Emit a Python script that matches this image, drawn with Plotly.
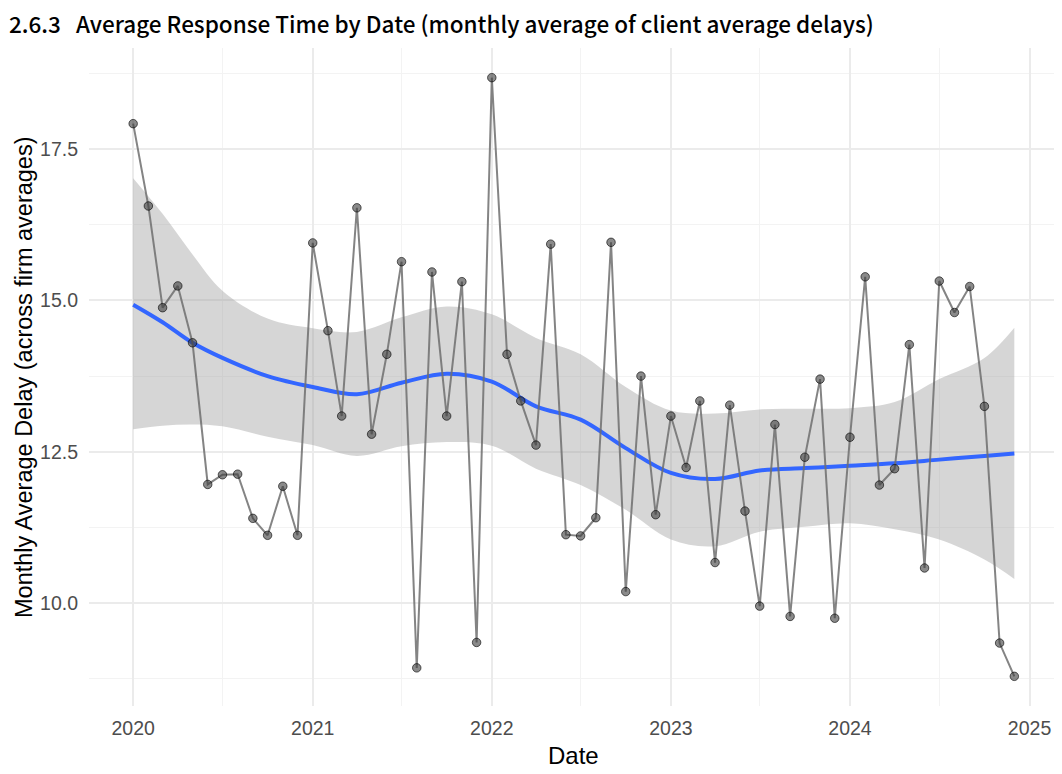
import plotly.graph_objects as go

months = [f"{y}-{m:02d}-01" for y in range(2020, 2025) for m in range(1, 13)]
delay = [17.92, 16.56, 14.88, 15.24, 14.30, 11.96, 12.12, 12.13, 11.40, 11.12, 11.93, 11.12,
         15.95, 14.50, 13.09, 16.53, 12.79, 14.11, 15.64, 8.93, 15.47, 13.09, 15.31, 9.35,
         18.68, 14.11, 13.34, 12.61, 15.93, 11.13, 11.11, 11.41, 15.96, 10.19, 13.75, 11.46,
         13.09, 12.24, 13.34, 10.67, 13.27, 11.52, 9.95, 12.95, 9.78, 12.41, 13.70, 9.75,
         12.74, 15.39, 11.95, 12.22, 14.27, 10.58, 15.32, 14.80, 15.23, 13.25, 9.34, 8.79]

smooth_dates = ["2020-01-01", "2020-03-01", "2020-05-01", "2020-07-01", "2020-10-01",
                "2021-01-01", "2021-04-01", "2021-07-01", "2021-10-01", "2022-01-01",
                "2022-04-01", "2022-07-01", "2022-10-01", "2023-01-01", "2023-04-01",
                "2023-07-01", "2023-10-01", "2024-01-01", "2024-04-01", "2024-07-01",
                "2024-10-01", "2024-12-01"]
smooth_fit = [14.93, 14.64, 14.30, 14.05, 13.75, 13.57, 13.45, 13.64, 13.79, 13.66,
              13.25, 13.03, 12.56, 12.15, 12.05, 12.19, 12.23, 12.27, 12.31, 12.37, 12.43, 12.47]
smooth_lo = [12.87, 12.93, 12.95, 12.92, 12.75, 12.61, 12.43, 12.59, 12.66, 12.60,
             12.22, 11.95, 11.54, 11.05, 10.94, 11.18, 11.26, 11.32, 11.22, 11.05, 10.72, 10.40]
smooth_hi = [17.02, 16.43, 15.76, 15.16, 14.70, 14.54, 14.48, 14.72, 14.90, 14.77,
             14.38, 14.11, 13.57, 13.18, 13.13, 13.20, 13.21, 13.22, 13.32, 13.70, 14.05, 14.55]

title_text = "2.6.3   Average Response Time by Date (monthly average of client average delays)"
x_title = "Date"
y_title = "Monthly Average Delay (across firm averages)"

fig = go.Figure()
fig.add_trace(go.Scatter(x=smooth_dates, y=smooth_hi, mode="lines",
                         line=dict(width=0, shape="spline"), hoverinfo="skip", showlegend=False))
fig.add_trace(go.Scatter(x=smooth_dates, y=smooth_lo, mode="lines",
                         line=dict(width=0, shape="spline"), fill="tonexty",
                         fillcolor="rgba(153,153,153,0.4)", hoverinfo="skip", showlegend=False))
fig.add_trace(go.Scatter(x=smooth_dates, y=smooth_fit, mode="lines",
                         line=dict(color="#3366FF", width=4, shape="spline"), showlegend=False))
fig.add_trace(go.Scatter(x=months, y=delay, mode="lines",
                         line=dict(color="rgba(110,110,110,0.85)", width=2), showlegend=False))
fig.add_trace(go.Scatter(x=months, y=delay, mode="markers",
                         marker=dict(size=8.5, color="rgba(60,60,60,0.6)",
                                     line=dict(color="rgba(0,0,0,0.6)", width=1)),
                         showlegend=False))

grid = "#ebebeb"
fig.update_layout(
    width=1062, height=774,
    paper_bgcolor="white", plot_bgcolor="white",
    margin=dict(l=81, r=12, t=40, b=76, autoexpand=False),
    font=dict(family="Liberation Sans, Arial, sans-serif", color="#4d4d4d"),
    annotations=[
        dict(text=title_text, xref="paper", yref="paper", x=0, y=1, xanchor="left",
             yanchor="middle", xshift=-82, yshift=25, showarrow=False,
             font=dict(family="Noto Sans CJK KR", size=22.5, color="black", weight=500)),
        dict(text=x_title, xref="paper", yref="paper", x=0.5, y=0, xanchor="center",
             yanchor="middle", yshift=-49, showarrow=False,
             font=dict(size=24, color="black")),
        dict(text=y_title, xref="paper", yref="paper", x=0, y=0.5, xanchor="center",
             yanchor="middle", xshift=-65, textangle=-90, showarrow=False,
             font=dict(size=23.5, color="black")),
    ],
    xaxis=dict(type="date", range=["2019-10-03", "2025-02-28"],
               tick0="2020-01-01", dtick="M12", tickformat="%Y",
               showgrid=True, gridcolor=grid, gridwidth=1.6,
               minor=dict(dtick="M6", tick0="2020-01-01", showgrid=True, gridcolor="#f3f3f3", gridwidth=1),
               zeroline=False, showline=False, ticks="", automargin=False,
               ticklabelstandoff=8,
               tickfont=dict(size=19.5, color="#4d4d4d")),
    yaxis=dict(range=[8.30, 19.17], tick0=10, dtick=2.5, tickformat=".1f",
               showgrid=True, gridcolor=grid, gridwidth=1.6,
               minor=dict(dtick=1.25, tick0=10, showgrid=True, gridcolor="#f3f3f3", gridwidth=1),
               zeroline=False, showline=False, ticks="", automargin=False,
               ticklabelstandoff=10,
               tickfont=dict(size=19.5, color="#4d4d4d")),
)

fig.write_html("out.html")
